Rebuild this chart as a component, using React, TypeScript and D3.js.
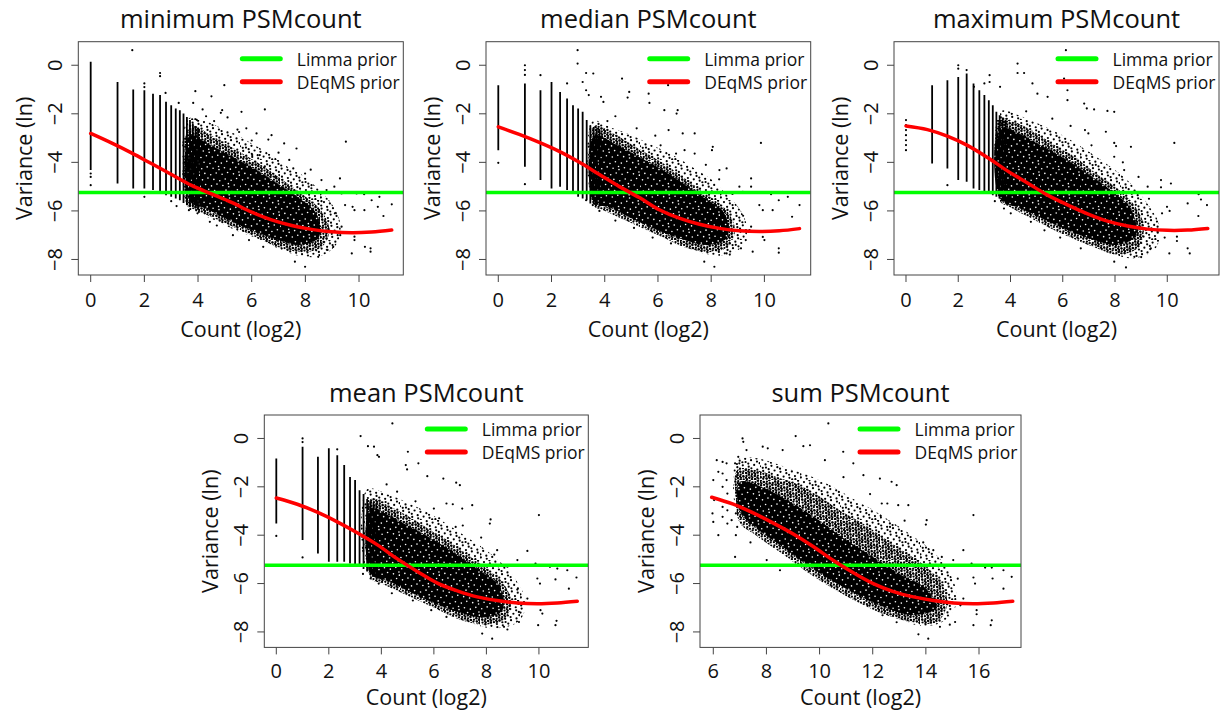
import React from "react";
import * as d3 from "d3";

type Pt = [number, number];
type Stripe = [number, number, number]; // x, low, high

const FONT = "'Open Sans', 'Noto Sans', sans-serif";

const titles = ["minimum PSMcount", "median PSMcount", "maximum PSMcount", "mean PSMcount", "sum PSMcount"];
const xTicksCount = [0, 2, 4, 6, 8, 10];
const xTicksSum = [6, 8, 10, 12, 14, 16];
const yTicks = [0, -2, -4, -6, -8];
const limmaPrior = -5.24;
const legendLabels = ["Limma prior", "DEqMS prior"];
const xLabel = "Count (log2)";
const yLabel = "Variance (ln)";

// ---------- minimum PSMcount ----------
const minStripes: Stripe[] = [
  [0, -4.32, 0.14], [1, -4.87, -0.69], [1.585, -5.08, -1.0], [2, -5.08, -1.03], [2.322, -5.14, -1.17],
  [2.585, -5.25, -1.23], [2.807, -5.35, -1.5], [3, -5.42, -1.65], [3.17, -5.49, -1.78], [3.322, -5.56, -1.85],
  [3.459, -5.67, -1.99], [3.585, -5.76, -2.13], [3.7, -5.83, -2.26], [3.807, -5.85, -2.4], [3.907, -5.9, -2.5],
  [4.0, -5.95, -2.6],
];
const minHalo: Pt[] = [
  [3.63, -2.2], [4.25, -2.3], [4.88, -2.6], [5.5, -2.9], [6.12, -3.3], [6.74, -3.7], [7.36, -4.2],
  [7.99, -4.6], [8.48, -5.1], [8.98, -5.7], [9.3, -6.5], [9.2, -7.3], [8.6, -7.85], [7.74, -7.85],
  [6.99, -7.55], [6.24, -7.15], [5.5, -6.85], [4.75, -6.45], [4.13, -6.15], [3.63, -5.9], [3.5, -5.6],
];
const minMid: Pt[] = [
  [3.7, -2.5], [4.5, -2.9], [5.12, -3.3], [5.75, -3.7], [6.49, -4.2], [7.24, -4.8], [7.99, -5.4],
  [8.6, -6.0], [8.9, -6.8], [8.6, -7.5], [7.9, -7.7], [7.0, -7.5], [6.2, -7.1], [5.4, -6.7],
  [4.6, -6.3], [3.9, -5.95], [3.6, -5.8],
];
const minCore: Pt[] = [
  [3.7, -2.9], [4.4, -3.25], [5.0, -3.6], [6.0, -4.2], [7.0, -4.9], [7.8, -5.5], [8.4, -6.1],
  [8.5, -7.1], [7.8, -7.4], [7.0, -7.2], [6.0, -6.8], [5.0, -6.3], [4.3, -5.9], [3.7, -5.6],
];
const minScatter: Pt[] = [
  [0, -4.46], [0, -4.6], [0, -4.94], [2, -5.42], [2, -0.75], [2, -0.9], [2.585, -0.32], [2.585, -0.45],
  [1.55, 0.62], [4.98, -0.82], [3.9, -1.07], [4.5, -1.28], [2.79, -1.14], [3.28, -1.55], [3.82, -1.55],
  [4.9, -1.85], [4.85, -1.96], [5.62, -1.92], [6.49, -1.82], [4.17, -1.82], [5.1, -2.15], [5.47, -2.65],
  [5.53, -2.75], [6.18, -2.81], [6.74, -2.88], [7.67, -3.43], [9.51, -3.15], [6.62, -3.06], [7.21, -3.22],
  [6.02, -3.7], [6.3, -3.7], [6.49, -4.16], [7.55, -4.25], [6.87, -4.6], [7.99, -4.46], [8.6, -4.73],
  [9.29, -4.66], [9.08, -5.0], [8.23, -4.94], [8.79, -5.14], [9.35, -5.28], [9.91, -5.28], [10.19, -5.31],
  [10.47, -5.56], [10.76, -5.42], [11.22, -5.73], [9.48, -5.76], [9.76, -5.83], [9.83, -5.97], [10.2, -5.97],
  [10.7, -5.83], [10.91, -6.21], [9.35, -6.65], [9.83, -7.06], [9.83, -7.2], [10.22, -7.48], [10.43, -7.54],
  [10.43, -7.68], [9.73, -7.75], [8.48, -7.89], [7.99, -8.3], [7.61, -8.09], [9.04, -7.48], [6.43, -7.48],
  [6.93, -7.2], [4.44, -6.45], [3.98, -6.1], [3.66, -5.97], [4.7, -6.6], [3.2, -5.8], [3.0, -5.6],
  [4.3, -2.1], [4.6, -2.3], [3.95, -2.25], [5.8, -2.6], [6.0, -3.1], [7.0, -3.6], [7.4, -3.9],
  [8.2, -4.3], [8.6, -5.6], [9.1, -6.1], [9.3, -7.0], [8.8, -7.6], [5.9, -7.2], [5.3, -7.0],
];
const minCurve: Pt[] = [
  [0, -2.81], [0.77, -3.2], [1.52, -3.61], [2.26, -4.05], [3.01, -4.5], [3.76, -4.95], [4.5, -5.3],
  [5.25, -5.65], [6.0, -6.05], [6.74, -6.37], [7.49, -6.6], [8.23, -6.76], [8.98, -6.86], [9.73, -6.9],
  [10.47, -6.87], [11.22, -6.79],
];

// ---------- median PSMcount ----------
const medStripes: Stripe[] = [
  [0, -3.5, -0.82], [1, -4.18, -0.75], [1.585, -4.73, -1.03], [2, -5.08, -0.69], [2.322, -5.0, -1.1],
  [2.585, -5.14, -1.37], [2.807, -5.21, -1.65], [3, -5.42, -1.78], [3.17, -5.49, -1.92], [3.322, -5.56, -2.26],
  [3.459, -5.69, -2.47], [3.585, -5.72, -2.54], [3.7, -5.75, -2.6], [3.807, -5.8, -2.65],
];
const medHalo: Pt[] = [
  [3.55, -2.3], [4.3, -2.6], [5.05, -2.9], [5.8, -3.3], [6.55, -3.7], [7.3, -4.2], [8.06, -4.75],
  [8.56, -5.3], [9.06, -5.9], [9.35, -6.7], [9.15, -7.5], [8.3, -7.85], [7.56, -7.7], [6.8, -7.3],
  [6.05, -6.85], [5.3, -6.45], [4.55, -6.05], [3.92, -5.8], [3.55, -5.6],
];
const medMid: Pt[] = [
  [3.6, -2.5], [4.3, -2.8], [4.92, -3.2], [5.68, -3.7], [6.43, -4.2], [7.18, -4.8], [7.93, -5.4],
  [8.6, -6.0], [8.9, -6.8], [8.6, -7.5], [7.9, -7.7], [7.0, -7.5], [6.2, -7.1], [5.4, -6.7],
  [4.6, -6.3], [3.9, -5.95], [3.6, -5.8],
];
const medCore: Pt[] = [
  [3.6, -2.9], [4.4, -3.25], [5.0, -3.6], [6.0, -4.2], [7.0, -4.9], [7.8, -5.5], [8.5, -6.1],
  [8.6, -7.1], [7.9, -7.4], [7.0, -7.2], [6.0, -6.8], [5.0, -6.3], [4.3, -5.9], [3.6, -5.6],
];
const medScatter: Pt[] = [
  [0, -4.02], [1, 0], [1, -0.2], [1, -0.4], [1, -4.9], [1.585, -0.41], [2.585, -0.75],
  [2.98, 0.62], [2.98, 0.07], [3.3, -0.32], [3.57, -0.34], [4.65, -0.55], [3.17, -0.69], [3.3, -1.03],
  [3.4, -1.23], [3.86, -1.3], [3.95, -1.51], [4.92, -1.1], [4.86, -1.33], [5.65, -1.17], [5.68, -1.55],
  [6.38, -0.82], [6.24, -1.85], [6.74, -1.85], [6.7, -1.99], [6.93, -2.81], [6.4, -2.67], [7.38, -2.81],
  [7.38, -3.64], [8.06, -3.36], [8.03, -3.5], [6.68, -3.64], [9.87, -3.2], [8.31, -4.32], [8.58, -4.25],
  [9.06, -5.0], [9.19, -5.21], [9.5, -4.66], [9.5, -5.0], [10.25, -5.31], [10.54, -5.56], [10.88, -5.42],
  [11.32, -5.76], [9.81, -5.76], [9.94, -5.97], [10.31, -5.97], [11.04, -6.24], [9.5, -6.65], [9.44, -6.79],
  [9.94, -7.07], [10.0, -7.2], [10.54, -7.54], [10.54, -7.72], [9.56, -7.68], [8.58, -7.75], [8.12, -8.3],
  [7.74, -8.09], [9.12, -7.54], [6.49, -7.34], [3.55, -5.76], [3.3, -5.56], [4.1, -2.3], [4.4, -2.1],
  [5.2, -2.6], [5.9, -2.9], [6.1, -3.3], [7.0, -3.5], [7.8, -4.1], [8.3, -4.7], [8.8, -5.3], [9.2, -6.2],
  [9.3, -7.2], [8.7, -7.8], [5.8, -7.1], [5.1, -6.7], [4.4, -6.4], [3.8, -6.0],
];
const medCurve: Pt[] = [
  [0, -2.54], [0.79, -2.85], [1.54, -3.18], [2.29, -3.55], [3.05, -4.0], [3.8, -4.5], [4.55, -5.0],
  [5.3, -5.45], [6.05, -5.95], [6.8, -6.3], [7.56, -6.55], [8.31, -6.72], [9.06, -6.82], [9.81, -6.85],
  [10.56, -6.82], [11.32, -6.73],
];

// ---------- maximum PSMcount ----------
const maxStripes: Stripe[] = [
  [1, -4.05, -0.82], [1.585, -4.25, -0.62], [2, -4.73, -0.48], [2.322, -4.8, -0.34], [2.585, -5.08, -0.75],
  [2.807, -5.14, -1.03], [3, -5.21, -1.23], [3.17, -5.28, -1.44], [3.322, -5.35, -1.65], [3.459, -5.42, -1.92],
  [3.585, -5.49, -2.06], [3.7, -5.5, -2.15], [3.807, -5.55, -2.25],
];
const maxHalo: Pt[] = [
  [3.63, -1.9], [4.39, -2.1], [5.16, -2.45], [5.93, -2.85], [6.69, -3.35], [7.46, -3.9], [8.22, -4.5],
  [8.8, -5.1], [9.3, -5.8], [9.7, -6.6], [9.55, -7.55], [8.74, -7.95], [7.97, -7.8], [7.2, -7.4],
  [6.44, -7.0], [5.67, -6.6], [4.9, -6.15], [4.14, -5.75], [3.63, -5.5],
];
const maxMid: Pt[] = [
  [3.6, -2.2], [4.3, -2.4], [5.0, -2.8], [5.7, -3.3], [6.5, -3.8], [7.2, -4.4], [8.0, -5.0],
  [8.7, -5.7], [9.1, -6.6], [8.9, -7.5], [8.1, -7.8], [7.2, -7.5], [6.3, -7.1], [5.5, -6.7],
  [4.6, -6.2], [3.9, -5.8], [3.6, -5.6],
];
const maxCore: Pt[] = [
  [3.6, -2.6], [4.4, -2.85], [5.0, -3.2], [6.0, -3.8], [7.0, -4.5], [7.9, -5.2], [8.6, -5.9],
  [8.8, -7.0], [8.1, -7.4], [7.2, -7.2], [6.2, -6.8], [5.2, -6.3], [4.4, -5.9], [3.6, -5.5],
];
const maxScatter: Pt[] = [
  [0, -2.26], [0, -2.47], [0, -2.67], [0, -2.88], [0, -3.09], [0, -3.29], [0, -3.5],
  [1.585, -4.94], [2, 0], [2, -0.14], [3, -0.75], [2.32, -0.2],
  [6.12, 0.62], [4.27, 0.07], [4.27, -0.32], [4.52, -0.32], [6.05, -0.55], [4.84, -0.75], [3.6, -0.89],
  [3.2, -0.41], [3.2, -0.69], [2.6, -0.89], [5.03, -1.17], [5.42, -1.3], [6.18, -1.03], [6.18, -1.44],
  [6.82, -1.58], [6.92, -1.78], [7.2, -1.82], [7.71, -1.88], [7.97, -1.92], [6.85, -2.67], [6.98, -2.81],
  [7.65, -2.74], [7.97, -3.2], [8.04, -3.33], [8.61, -3.36], [7.97, -3.77], [10.27, -3.2], [8.35, -4.32],
  [9.25, -5.0], [9.76, -4.73], [9.76, -5.03], [10.14, -4.87], [11.2, -5.31], [11.29, -5.53], [11.52, -5.76],
  [9.99, -5.83], [10.09, -6.0], [10.78, -5.69], [11.19, -6.21], [9.63, -6.65], [9.63, -6.86], [10.37, -7.06],
  [10.37, -7.24], [10.78, -7.54], [10.86, -7.75], [10.08, -7.75], [8.74, -7.89], [8.42, -8.33], [7.97, -8.09],
  [9.37, -7.54], [6.69, -7.54], [4.78, -6.45], [4.01, -6.1], [3.75, -5.9], [4.6, -1.9], [5.6, -2.2],
  [6.3, -2.5], [7.1, -3.3], [8.3, -4.0], [8.9, -4.6], [9.3, -5.5], [9.8, -6.1], [9.9, -7.1], [9.0, -7.9],
  [5.9, -7.1], [5.3, -6.8], [3.4, -5.6],
];
const maxCurve: Pt[] = [
  [0, -2.5], [0.82, -2.65], [1.58, -2.92], [2.35, -3.3], [3.12, -3.8], [3.88, -4.35], [4.65, -4.85],
  [5.42, -5.35], [6.18, -5.75], [6.95, -6.12], [7.71, -6.42], [8.48, -6.62], [9.25, -6.75], [10.01, -6.8],
  [10.78, -6.79], [11.55, -6.72],
];

// ---------- mean PSMcount ----------
const meanStripes: Stripe[] = [
  [0, -3.52, -0.83], [1, -4.2, -0.34], [1.585, -4.76, -0.76], [2, -5.1, -0.41], [2.322, -5.1, -0.69],
  [2.585, -5.1, -1.1], [2.807, -5.17, -1.59], [3, -5.24, -1.72], [3.17, -5.31, -2.14], [3.322, -5.4, -2.3],
  [3.459, -5.5, -2.5], [3.585, -5.6, -2.6], [3.7, -5.7, -2.65], [3.807, -5.75, -2.7],
];
const meanHalo: Pt[] = [
  [3.46, -2.1], [4.23, -2.3], [4.99, -2.65], [5.75, -3.05], [6.51, -3.55], [7.27, -4.1], [8.03, -4.65],
  [8.67, -5.25], [9.18, -5.95], [9.5, -6.75], [9.25, -7.55], [8.41, -7.85], [7.65, -7.72], [6.89, -7.3],
  [6.13, -6.9], [5.37, -6.48], [4.61, -6.05], [3.97, -5.75], [3.46, -5.55],
];
const meanMid: Pt[] = [
  [3.6, -2.5], [4.3, -2.8], [4.99, -3.2], [5.75, -3.7], [6.51, -4.2], [7.27, -4.8], [8.03, -5.4],
  [8.65, -6.0], [8.95, -6.8], [8.65, -7.5], [7.9, -7.7], [7.0, -7.5], [6.2, -7.1], [5.4, -6.7],
  [4.6, -6.3], [3.9, -5.95], [3.6, -5.8],
];
const meanCore: Pt[] = [
  [3.6, -2.9], [4.4, -3.25], [5.0, -3.6], [6.0, -4.2], [7.0, -4.9], [7.8, -5.5], [8.5, -6.1],
  [8.6, -7.1], [7.9, -7.4], [7.0, -7.2], [6.0, -6.8], [5.0, -6.3], [4.3, -5.9], [3.6, -5.6],
];
const meanScatter: Pt[] = [
  [0, -4.03], [1, 0], [1, -0.15], [1, -4.92], [2.32, -0.45],
  [4.42, 0.62], [3.21, 0.1], [3.49, -0.32], [3.72, -0.34], [3.85, -0.69], [3.91, -0.76], [5.01, -0.55],
  [5.41, -1.03], [5.75, -1.56], [4.93, -1.1], [4.98, -1.28], [6.36, -1.66], [6.85, -1.83], [6.99, -1.93],
  [6.48, -2.69], [6.72, -2.72], [7.08, -2.9], [7.46, -2.76], [8.16, -3.35], [8.13, -3.52], [6.83, -3.66],
  [10.0, -3.17], [8.41, -4.62], [9.18, -5.03], [9.56, -4.65], [9.87, -5.17], [10.42, -5.31], [10.7, -5.38],
  [11.08, -5.45], [11.43, -5.75], [9.94, -5.79], [10.04, -6.0], [10.63, -5.83], [11.14, -6.21], [9.56, -6.62],
  [9.56, -6.83], [10.06, -7.1], [10.13, -7.24], [10.67, -7.54], [10.63, -7.72], [9.97, -7.72], [8.67, -7.79],
  [8.22, -8.28], [7.84, -8.07], [9.24, -7.59], [6.48, -7.38], [3.59, -5.79], [3.3, -5.6], [4.2, -1.9],
  [4.6, -2.2], [5.3, -2.6], [6.0, -2.9], [6.2, -3.3], [7.1, -3.6], [7.8, -4.1], [8.3, -4.8], [8.8, -5.3],
  [9.2, -6.2], [9.3, -7.2], [8.8, -7.9], [5.9, -7.1], [5.2, -6.7], [4.4, -6.4], [3.9, -6.0],
];
const meanCurve: Pt[] = [
  [0, -2.46], [0.8, -2.72], [1.56, -3.05], [2.32, -3.45], [3.08, -3.9], [3.85, -4.4], [4.61, -4.98],
  [5.37, -5.5], [6.13, -5.98], [6.89, -6.3], [7.65, -6.55], [8.41, -6.7], [9.18, -6.8], [9.94, -6.83],
  [10.7, -6.8], [11.46, -6.73],
];

// ---------- sum PSMcount ----------
const sumStripes: Stripe[] = [];
const sumHalo: Pt[] = [
  [6.88, -0.9], [7.5, -0.8], [8.26, -1.0], [9.0, -1.3], [9.76, -1.6], [10.5, -2.0], [11.27, -2.5],
  [12.0, -2.95], [12.78, -3.5], [13.53, -4.05], [14.2, -4.6], [14.75, -5.3], [15.1, -6.1], [15.1, -7.0],
  [14.6, -7.6], [13.78, -7.75], [13.03, -7.45], [12.27, -7.05], [11.52, -6.5], [10.77, -5.95], [10.01, -5.3],
  [9.26, -4.85], [8.51, -4.3], [7.76, -3.75], [7.13, -3.35], [6.85, -2.9], [6.75, -1.72],
];
const sumMid: Pt[] = [
  [6.9, -1.3], [7.6, -1.3], [8.4, -1.6], [9.2, -1.9], [10.0, -2.4], [10.8, -3.0], [11.6, -3.5],
  [12.4, -4.1], [13.2, -4.7], [14.0, -5.3], [14.6, -6.0], [14.8, -6.9], [14.4, -7.6], [13.5, -7.6],
  [12.5, -7.3], [11.5, -6.8], [10.5, -6.2], [9.5, -5.5], [8.5, -4.7], [7.6, -4.0], [7.0, -3.5], [6.85, -2.5],
];
const sumCore: Pt[] = [
  [7.0, -1.8], [8.0, -2.1], [9.0, -2.7], [10.0, -3.4], [11.0, -4.2], [12.0, -4.9], [13.0, -5.6], [14.0, -6.2],
  [14.4, -7.0], [13.5, -7.3], [12.5, -7.0], [11.5, -6.5], [10.5, -5.9], [9.5, -5.2], [8.5, -4.4], [7.5, -3.6],
  [7.0, -3.0],
];
const sumScatter: Pt[] = [
  [6.13, -0.9], [6.19, -1.38], [6.0, -1.72], [6.03, -2.55], [5.97, -3.1], [6.0, -3.45], [6.35, -0.97],
  [6.35, -1.45], [6.35, -2.0], [6.35, -2.83], [6.35, -3.24], [6.5, -1.03], [6.5, -1.72], [6.53, -2.28],
  [6.53, -2.97], [6.53, -3.52], [6.66, -2.69], [6.69, -3.38], [6.82, -1.03], [6.88, -1.58], [6.85, -3.1],
  [6.9, -3.66], [6.19, -4.0], [7.1, 0.0], [7.13, -0.14], [7.25, -0.48], [6.94, -0.76], [6.98, -1.03],
  [6.82, -4.9], [7.86, -0.34], [8.05, -0.41], [8.61, -0.48], [9.1, 0.1], [9.64, -0.28], [9.39, -0.32],
  [10.33, 0.62], [10.89, -0.55], [11.27, -1.03], [11.65, -1.52], [12.27, -1.66], [12.71, -1.79], [12.9, -1.93],
  [12.34, -2.69], [12.55, -2.69], [12.96, -2.76], [13.34, -2.76], [12.65, -3.66], [14.03, -3.38], [14.0, -3.56],
  [15.79, -3.17], [14.28, -4.62], [15.03, -5.03], [15.41, -4.62], [15.72, -5.17], [16.23, -5.34], [16.48, -5.34],
  [16.92, -5.45], [17.23, -5.72], [15.79, -5.75], [15.85, -6.0], [16.51, -5.79], [16.92, -6.21], [15.41, -6.62],
  [15.41, -6.83], [15.91, -7.1], [15.91, -7.27], [16.48, -7.52], [16.44, -7.72], [15.79, -7.72], [14.53, -7.79],
  [14.09, -8.28], [13.72, -8.1], [15.1, -7.59], [12.37, -7.31], [8.51, -5.45], [8.01, -5.03], [6.85, -4.0],
  [7.4, -4.3], [9.6, -5.5], [10.2, -0.9], [10.9, -1.6], [11.9, -2.3], [12.3, -3.2], [13.2, -3.4], [13.9, -4.3],
  [14.6, -4.9], [15.2, -5.8], [15.3, -6.9], [14.9, -7.7], [12.9, -7.6], [11.8, -6.9], [11.0, -6.3], [10.2, -5.7],
];
const sumCurve: Pt[] = [
  [5.94, -2.43], [6.75, -2.72], [7.5, -3.08], [8.26, -3.5], [9.01, -3.95], [9.76, -4.47], [10.52, -5.05],
  [11.27, -5.55], [12.02, -6.0], [12.78, -6.33], [13.53, -6.55], [14.28, -6.7], [15.03, -6.8], [15.79, -6.83],
  [16.54, -6.8], [17.27, -6.73],
];

// ---------- layout (positions only) ----------
interface Layout {
  left: number; top: number; width: number; height: number; xDomain: [number, number];
  tickLab: number; axLab: number; legLine: number; legText: number;
}
const row1 = { top: 41.7, height: 233.3, tickLab: 32, axLab: 62, legLine: 17, legText: 24.5 };
const row2 = { top: 415, height: 232.4, tickLab: 31, axLab: 58, legLine: 14, legText: 21 };
const layouts: Layout[] = [
  { left: 78.3, width: 325, xDomain: [-0.462, 11.65], ...row1 },
  { left: 486, width: 324.7, xDomain: [-0.462, 11.74], ...row1 },
  { left: 894, width: 325, xDomain: [-0.459, 11.98], ...row1 },
  { left: 264.3, width: 324, xDomain: [-0.457, 11.88], ...row2 },
  { left: 700, width: 321, xDomain: [5.5, 17.58], ...row2 },
];
const yDomain: [number, number] = [-8.64, 0.97];

interface PanelData {
  title: string; xTicks: number[]; stripes: Stripe[]; halo: Pt[]; mid: Pt[]; core: Pt[]; scatter: Pt[]; curve: Pt[];
}
const panelData: PanelData[] = [
  { title: titles[0], xTicks: xTicksCount, stripes: minStripes, halo: minHalo, mid: minMid, core: minCore, scatter: minScatter, curve: minCurve },
  { title: titles[1], xTicks: xTicksCount, stripes: medStripes, halo: medHalo, mid: medMid, core: medCore, scatter: medScatter, curve: medCurve },
  { title: titles[2], xTicks: xTicksCount, stripes: maxStripes, halo: maxHalo, mid: maxMid, core: maxCore, scatter: maxScatter, curve: maxCurve },
  { title: titles[3], xTicks: xTicksCount, stripes: meanStripes, halo: meanHalo, mid: meanMid, core: meanCore, scatter: meanScatter, curve: meanCurve },
  { title: titles[4], xTicks: xTicksSum, stripes: sumStripes, halo: sumHalo, mid: sumMid, core: sumCore, scatter: sumScatter, curve: sumCurve },
];

const fmt = (v: number) => (v < 0 ? "\u2212" + Math.abs(v) : String(v));

// texture tiles (styling only): low-discrepancy dot placements
const TILE = 40;
function tileDots(n: number, seedA: number, seedB: number): Pt[] {
  const a = 0.7548776662466927, b = 0.5698402909980532;
  return d3.range(n).map((i) => [((seedA + a * (i + 1)) % 1) * TILE, ((seedB + b * (i + 1)) % 1) * TILE] as Pt);
}
const haloDots = tileDots(90, 0.13, 0.41);
const midDots = tileDots(240, 0.37, 0.71);
const coreHoles = tileDots(55, 0.21, 0.53);

function Panel({ d, l, idx }: { d: PanelData; l: Layout; idx: number }) {
  const x = d3.scaleLinear().domain(l.xDomain).range([l.left, l.left + l.width]);
  const y = d3.scaleLinear().domain(yDomain).range([l.top + l.height, l.top]);
  const area = d3.line<Pt>().x((p) => x(p[0])).y((p) => y(p[1])).curve(d3.curveCatmullRomClosed.alpha(0.5));
  const curve = d3.line<Pt>().x((p) => x(p[0])).y((p) => y(p[1])).curve(d3.curveCatmullRom.alpha(0.5));
  const right = l.left + l.width;
  const bottom = l.top + l.height;
  const cx = l.left + l.width / 2;
  const cy = l.top + l.height / 2;
  const clipId = `clip${idx}`;
  return (
    <g>
      <clipPath id={clipId}>
        <rect x={l.left} y={l.top} width={l.width} height={l.height} />
      </clipPath>
      <g clipPath={`url(#${clipId})`}>
        <path d={area(d.halo) || ""} fill="url(#haloPat)" />
        <path d={area(d.mid) || ""} fill="url(#midPat)" />
        <path d={area(d.core) || ""} fill="url(#corePat)" />
        {d.stripes.map((s, i) => (
          <line key={i} x1={x(s[0])} x2={x(s[0])} y1={y(s[1])} y2={y(s[2])} stroke="#000" strokeWidth={1.8} />
        ))}
        {d.scatter.map((p, i) => (
          <circle key={i} cx={x(p[0])} cy={y(p[1])} r={1.1} fill="#000" />
        ))}
        <line x1={l.left} x2={right} y1={y(limmaPrior)} y2={y(limmaPrior)} stroke="#00ff00" strokeWidth={3.5} />
        <path d={curve(d.curve) || ""} fill="none" stroke="#ff0000" strokeWidth={3.5} strokeLinecap="round" />
      </g>
      <rect x={l.left} y={l.top} width={l.width} height={l.height} fill="none" stroke="#444" strokeWidth={1} />
      {d.xTicks.map((t) => (
        <g key={t}>
          <line x1={x(t)} x2={x(t)} y1={bottom} y2={bottom + 7} stroke="#444" />
          <text x={x(t)} y={bottom + l.tickLab} textAnchor="middle" fontSize={20} fontFamily={FONT} fill="#111">
            {fmt(t)}
          </text>
        </g>
      ))}
      {yTicks.map((t) => (
        <g key={t}>
          <line x1={l.left - 7} x2={l.left} y1={y(t)} y2={y(t)} stroke="#444" />
          <text transform={`translate(${l.left - 16},${y(t)}) rotate(-90)`} textAnchor="middle" fontSize={20} fontFamily={FONT} fill="#111">
            {fmt(t)}
          </text>
        </g>
      ))}
      <text x={cx} y={bottom + l.axLab} textAnchor="middle" fontSize={21.5} fontFamily={FONT} fill="#111">{xLabel}</text>
      <text transform={`translate(${l.left - 46.5},${cy}) rotate(-90)`} textAnchor="middle" fontSize={21.5} fontFamily={FONT} fill="#111">{yLabel}</text>
      <text x={cx} y={l.top - 13.4} textAnchor="middle" fontSize={25.5} fontFamily={FONT} fill="#111">{d.title}</text>
      {legendLabels.map((lab, i) => (
        <g key={lab}>
          <line x1={right - 161} x2={right - 123} y1={l.top + l.legLine + i * 23} y2={l.top + l.legLine + i * 23}
            stroke={i === 0 ? "#00ff00" : "#ff0000"} strokeWidth={5} strokeLinecap="round" />
          <text x={right - 106.5} y={l.top + l.legText + i * 23} fontSize={17.5} fontFamily={FONT} fill="#111">{lab}</text>
        </g>
      ))}
    </g>
  );
}

export default function App() {
  return (
    <svg width={1221} height={715} style={{ position: "absolute", left: 0, top: 0, background: "#fff" }}>
      <defs>
        <pattern id="haloPat" patternUnits="userSpaceOnUse" width={TILE} height={TILE}>
          {haloDots.map((p, i) => <circle key={i} cx={p[0]} cy={p[1]} r={1.1} fill="#000" />)}
        </pattern>
        <pattern id="midPat" patternUnits="userSpaceOnUse" width={TILE} height={TILE}>
          {midDots.map((p, i) => <circle key={i} cx={p[0]} cy={p[1]} r={1.15} fill="#000" />)}
        </pattern>
        <pattern id="corePat" patternUnits="userSpaceOnUse" width={TILE} height={TILE}>
          <rect width={TILE} height={TILE} fill="#000" />
          {coreHoles.map((p, i) => <circle key={i} cx={p[0]} cy={p[1]} r={0.8} fill="#fff" />)}
        </pattern>
      </defs>
      <rect width={1221} height={715} fill="#fff" />
      {panelData.map((d, i) => (
        <Panel key={i} d={d} l={layouts[i]} idx={i} />
      ))}
    </svg>
  );
}
